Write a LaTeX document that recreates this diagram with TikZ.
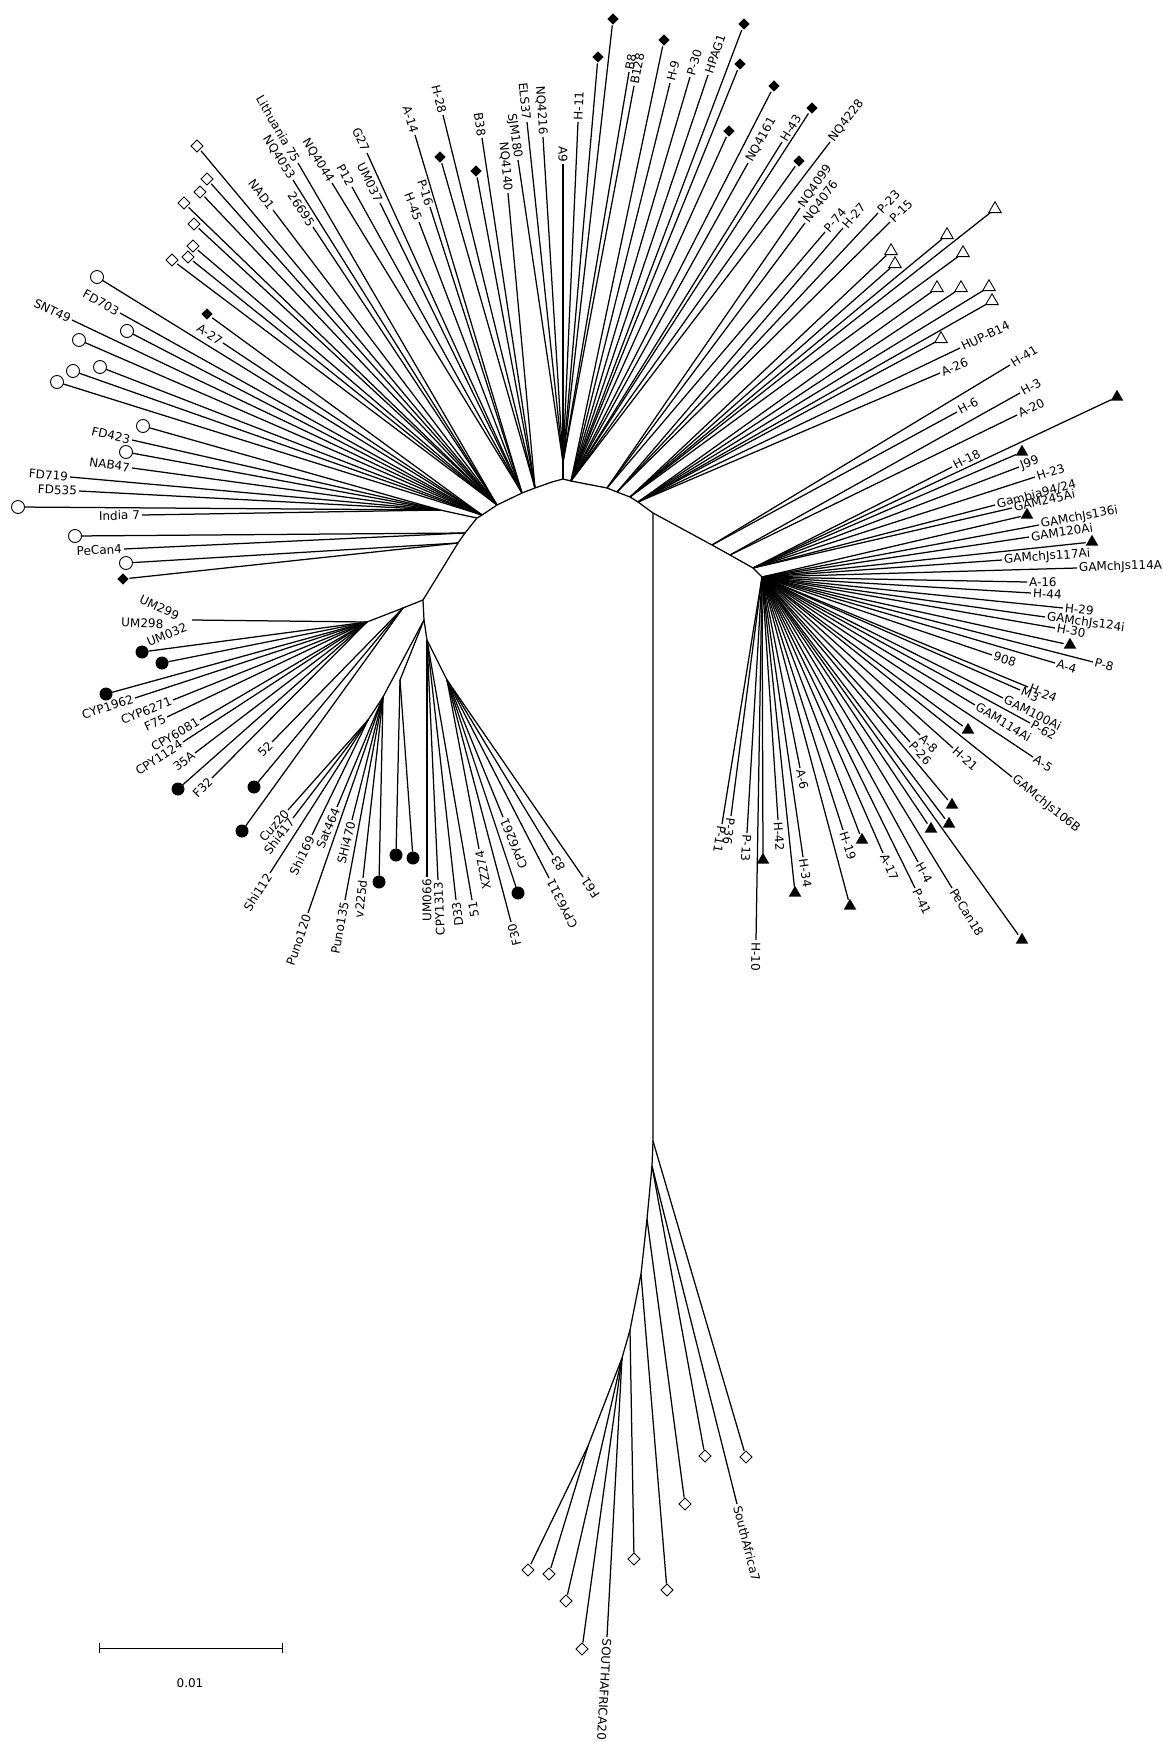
\documentclass[tikz,border=0pt]{standalone}
\usepackage{fontspec}
\setmainfont{DejaVu Sans}
\usetikzlibrary{calc,shapes.geometric}
\newcounter{lfc}
\newcommand\lR[3]{\stepcounter{lfc}\draw[br] let \p1=($(#2)-(#1)$), \n1={atan2(\y1,\x1)} in (#1) -- (#2) node[lab,anchor=west,rotate=\n1] (lf\thelfc) {#3};}
\newcommand\lL[3]{\stepcounter{lfc}\draw[br] let \p1=($(#2)-(#1)$), \n1={atan2(\y1,\x1)} in (#1) -- (#2) node[lab,anchor=east,rotate=\n1+180] (lf\thelfc) {#3};}
\newcommand\sy[3]{\stepcounter{lfc}\draw[br] (#1) -- ($(#2)!6.5pt!(#1)$); \node[#3] (lf\thelfc) at (#2) {};}
\tikzset{
 br/.style={line width=1.25pt},
 lab/.style={font=\fontsize{12}{14}\selectfont, inner sep=1.5pt},
 odia/.style={diamond, draw, fill=white, line width=0.9pt, minimum size=12.5pt, inner sep=0pt},
 fdia/.style={diamond, fill=black, minimum size=11.5pt, inner sep=0pt},
 ocir/.style={circle, draw, fill=white, line width=0.9pt, minimum size=13pt, inner sep=0pt},
 fcir/.style={circle, fill=black, minimum size=13pt, inner sep=0pt},
 otri/.style={regular polygon, regular polygon sides=3, draw, fill=white, line width=0.9pt, minimum size=14.5pt, inner sep=0pt},
 ftri/.style={regular polygon, regular polygon sides=3, fill=black, minimum size=14.5pt, inner sep=0pt},
}
\begin{document}
\begin{tikzpicture}[x=1pt,y=-1pt]
\useasboundingbox[fill=white] (0,0) rectangle (1162,1742);
% internal nodes
\coordinate (T) at (563,479); \coordinate (U0) at (563,462);
\coordinate (L1) at (552,482); \coordinate (L2) at (535,488); \coordinate (L3) at (522,493);
\coordinate (L4) at (497,505); \coordinate (L5) at (482,515); \coordinate (L5a) at (477,518);
\coordinate (L6) at (465,533); \coordinate (L7) at (458,543); \coordinate (LH) at (423,600);
\coordinate (P1) at (440,510);
\coordinate (R1) at (571,481); \coordinate (R2) at (607,488); \coordinate (R3) at (617,492);
\coordinate (R4) at (630,497); \coordinate (R5) at (638,502); \coordinate (RV) at (653,513);
\coordinate (R6) at (712,545); \coordinate (R7) at (730,555); \coordinate (R8) at (753,568);
\coordinate (RH) at (762,577);
\coordinate (S0) at (653,1141); \coordinate (S1) at (652,1166); \coordinate (S2) at (647,1219);
\coordinate (S3) at (641,1274); \coordinate (S4) at (630,1330); \coordinate (S5) at (622,1358);
\coordinate (S6) at (588,1446);
\coordinate (LB) at (403,608); \coordinate (LA) at (367,622); \coordinate (LV) at (424,620);
\coordinate (LC) at (427,640); \coordinate (LD) at (447,680); \coordinate (LE) at (400,680);
\coordinate (LF) at (383,697); \coordinate (LG) at (368,720);
% backbone
\draw[br] (LH) -- (L7) -- (L6) -- (L5a) -- (L5) -- (L4) -- (L3) -- (L2) -- (L1) -- (T) -- (R1) -- (R2) -- (R3) -- (R4) -- (R5) -- (RV) -- (R6) -- (R7) -- (R8) -- (RH);
\draw[br] (T) -- (U0);
\draw[br] (L5a) -- (P1);
\draw[br] (RV) -- (S0) -- (S1) -- (S2) -- (S3) -- (S4) -- (S5) -- (S6);
\draw[br] (LH) -- (LB) -- (LA);
\draw[br] (LH) -- (LV) -- (LC) -- (LD);
\draw[br] (LV) -- (LE);
\draw[br] (LV) -- (LF) -- (LG);
% ---- upper left
\sy{L7}{123,579}{fdia} \sy{L7}{126,563}{ocir}
\lL{L6}{124,549}{PeCan4} \sy{L6}{75,536}{ocir}
\lL{P1}{142,515}{India 7} \sy{P1}{18,507}{ocir} \lL{P1}{79,491}{FD535} \lL{P1}{70,477}{FD719}
\lL{P1}{132,468}{NAB47} \sy{P1}{126,452}{ocir} \lL{P1}{132,440}{FD423} \sy{P1}{143,426}{ocir}
\sy{L5}{57,382}{ocir} \sy{L5}{73,371}{ocir} \sy{L5}{100,367}{ocir} \sy{L5}{79,340}{ocir}
\sy{L5}{127,331}{ocir} \lL{L5}{72,320}{SNT49} \lL{L5}{120,313}{FD703} \sy{L5}{97,277}{ocir}
\lL{L5}{223,343}{A-27} \sy{L5}{207,314}{fdia}
\sy{L4}{172,260}{odia} \sy{L4}{188,257}{odia} \sy{L4}{193,246}{odia} \sy{L4}{194,224}{odia}
\sy{L4}{184,203}{odia} \sy{L4}{200,192}{odia} \sy{L4}{207,179}{odia} \sy{L4}{197,146}{odia}
\lL{L4}{273,210}{NAD1} \lL{L4}{313,227}{26695} \lL{L4}{293,180}{NQ4053} \lL{L4}{298,163}{Lithuania 75}
\lL{L3}{332,183}{NQ4044} \lL{L3}{352,187}{P12} \lL{L3}{380,203}{UM037} \lL{L3}{367,153}{G27}
\lL{L3}{419,222}{H-45} \lL{L3}{430,207}{P-16} \lL{L3}{415,135}{A-14}
\sy{L2}{440,157}{fdia} \lL{L2}{443,115}{H-28} \sy{L2}{476,171}{fdia} \lL{L2}{482,138}{B38} \lL{L2}{508,193}{NQ4140}
% ---- top
\lL{U0}{518,160}{SJM180} \lL{U0}{527,122}{ELS37} \lL{U0}{543,137}{NQ4216} \lL{U0}{563,164}{A9}
\lR{U0}{578,122}{H-11} \sy{U0}{598,57}{fdia} \sy{U0}{613,19}{fdia} \lR{U0}{629,72}{B8} \lR{U0}{634,86}{B128}
\sy{R1}{664,40}{fdia} \lR{R1}{670,83}{H-9} \lR{R1}{690,77}{P-30} \lR{R1}{708,75}{HPAG1}
\sy{R1}{744,24}{fdia} \sy{R1}{740,64}{fdia} \sy{R1}{729,131}{fdia} \lR{R1}{748,163}{NQ4161}
\sy{R1}{774,86}{fdia} \lR{R1}{782,142}{H-43} \sy{R1}{812,108}{fdia} \lR{R1}{830,142}{NQ4228} \sy{R1}{799,161}{fdia}
\lR{R2}{800,208}{NQ4099} \lR{R2}{805,223}{NQ4076} \lR{R2}{825,232}{P-74}
\lR{R3}{843,228}{H-27} \lR{R3}{878,213}{P-23} \lR{R3}{890,222}{P-15}
\sy{R4}{891,251}{otri} \sy{R4}{895,264}{otri} \sy{R4}{947,235}{otri} \sy{R4}{995,209}{otri} \sy{R4}{963,253}{otri}
\sy{R5}{937,288}{otri} \sy{R5}{961,288}{otri} \sy{R5}{989,287}{otri} \sy{R5}{992,301}{otri} \sy{R5}{941,339}{otri}
\lR{R5}{960,348}{HUP-B14} \lR{R5}{940,373}{A-26}
\lR{R6}{1010,365}{H-41} \lR{R6}{957,412}{H-6}
\lR{R7}{1020,393}{H-3} \lR{R7}{1017,415}{A-20}
\sy{R8}{1117,397}{ftri} \lR{R8}{952,467}{H-18} \sy{R8}{1022,452}{ftri} \lR{R8}{1019,467}{J99}
\lR{R8}{1035,477}{H-23} \lR{R8}{995,505}{Gambia94/24} \lR{R8}{1012,508}{GAM245Ai}
% ---- right hub
\sy{RH}{1027,515}{ftri} \lR{RH}{1039,525}{GAMchJs136i} \lR{RH}{1029,537}{GAM120Ai} \sy{RH}{1092,542}{ftri}
\lR{RH}{1002,560}{GAMchJs117Ai} \lR{RH}{1077,568}{GAMchJs114A} \lR{RH}{1027,582}{A-16} \lR{RH}{1031,593}{H-44}
\lR{RH}{1063,608}{H-29} \lR{RH}{1045,617}{GAMchJs124i} \lR{RH}{1055,628}{H-30} \sy{RH}{1070,645}{ftri}
\lR{RH}{1093,662}{P-8} \lR{RH}{1055,663}{A-4} \lR{RH}{992,655}{908} \lR{RH}{1028,687}{H-24} \lR{RH}{1020,690}{M3}
\lR{RH}{1003,698}{GAM100Ai} \lR{RH}{1030,723}{P-62} \lR{RH}{975,705}{GAM114Ai} \sy{RH}{968,730}{ftri}
\lR{RH}{1033,757}{A-5} \lR{RH}{1012,777}{GAMchJs106B} \lR{RH}{953,748}{H-21} \lR{RH}{920,735}{A-8} \lR{RH}{910,742}{P-26}
\sy{RH}{952,805}{ftri} \sy{RH}{949,824}{ftri} \sy{RH}{931,829}{ftri} \sy{RH}{1022,940}{ftri}
\lR{RH}{952,888}{PeCan18} \lR{RH}{918,862}{H-4} \lR{RH}{915,888}{P-41} \lR{RH}{883,853}{A-17}
\sy{RH}{862,840}{ftri} \lR{RH}{843,830}{H-19} \sy{RH}{850,906}{ftri} \lR{RH}{800,768}{A-6}
\lR{RH}{803,857}{H-34} \sy{RH}{795,893}{ftri} \lR{RH}{778,820}{H-42} \sy{RH}{763,860}{ftri}
\lR{RH}{756,940}{H-10} \lR{RH}{747,833}{P-13} \lR{RH}{731,816}{P-36} \lR{RH}{722,824}{P-11}
% ---- left hub
\coordinate (um) at (192,620);
\draw[br] (LA) -- (um);
\node[lab, anchor=east, rotate=-25] (um299) at (180,617) {UM299};
\node[lab, anchor=east, rotate=-2] (um298) at (165,624) {UM298};
\node[lab, anchor=east, rotate=22] (um032) at (188,626) {UM032};
\sy{LA}{142,652}{fcir} \sy{LA}{162,663}{fcir} \sy{LA}{106,694}{fcir}
\lL{LA}{135,698}{CYP1962} \lL{LA}{173,700}{CYP6271} \lL{LA}{167,717}{F75} \lL{LA}{200,720}{CPY6081}
\lL{LA}{183,742}{CPY1124} \lL{LA}{195,753}{35A} \sy{LA}{178,789}{fcir} \lL{LA}{212,778}{F32}
\lL{LB}{272,742}{52} \sy{LB}{254,787}{fcir} \sy{LB}{242,831}{fcir}
\lL{LG}{288,810}{Cuz20} \lL{LG}{293,818}{Shi417} \lL{LG}{312,835}{Shi169} \lL{LG}{270,873}{Shi112}
\lL{LF}{337,807}{Sat464} \lL{LF}{352,820}{SHi470} \lL{LF}{308,913}{Puno120} \lL{LF}{345,900}{Puno135}
\lL{LF}{363,878}{v225d} \sy{LF}{379,882}{fcir}
\sy{LE}{396,855}{fcir} \sy{LE}{413,858}{fcir}
\lL{LC}{427,877}{UM066} \lL{LC}{438,880}{CPY1313} \lL{LC}{456,900}{D33} \lL{LC}{472,900}{51}
\lL{LD}{479,849}{XZ274} \lL{LD}{503,817}{CPY6261} \lL{LD}{511,922}{F30} \sy{LD}{518,893}{fcir}
\lL{LD}{553,855}{83} \lL{LD}{549,878}{CPY6311} \lL{LD}{583,877}{F61}
% ---- bottom (South Africa)
\sy{S0}{746,1457}{odia}
\sy{S1}{705,1456}{odia} \lR{S1}{737,1504}{SouthAfrica7}
\sy{S2}{685,1504}{odia}
\sy{S3}{667,1590}{odia}
\sy{S4}{634,1559}{odia}
\lR{S5}{607,1637}{SOUTHAFRICA20} \sy{S5}{582,1649}{odia} \sy{S5}{566,1601}{odia}
\sy{S6}{528,1570}{odia} \sy{S6}{549,1574}{odia}
% ---- scale bar
\coordinate (sbA) at (99,1648); \coordinate (sbB) at (282,1648);
\draw[line width=1pt] (sbA) -- (sbB);
\draw[line width=1pt] ($(sbA)+(0,-5)$) -- ($(sbA)+(0,5)$);
\draw[line width=1pt] ($(sbB)+(0,-5)$) -- ($(sbB)+(0,5)$);
\node[lab] (sbl) at (190,1683) {0.01};
\end{tikzpicture}
\end{document}
